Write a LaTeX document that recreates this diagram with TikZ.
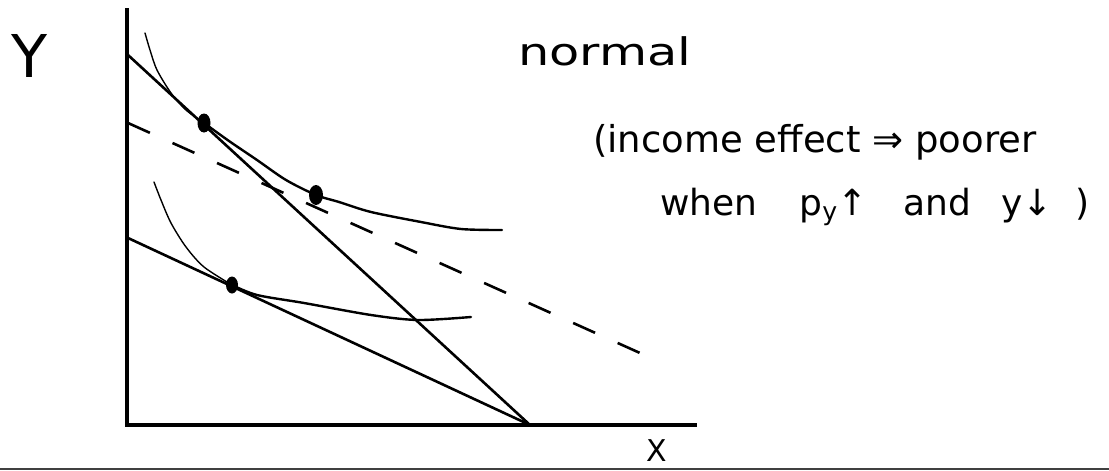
\documentclass[tikz,border=0pt]{standalone}
\usepackage{graphicx}
\usepackage{fontspec}
\setmainfont{DejaVu Sans}
\usetikzlibrary{shapes.geometric}
\begin{document}
\begin{tikzpicture}[x=1pt,y=-1pt,
  axis/.style={line width=3.5pt},
  budget/.style={line width=2.6pt},
  icthin/.style={line width=1.4pt, line cap=round, line join=round},
  icthick/.style={line width=2.4pt, line cap=round, line join=round},
  dot/.style={ellipse, fill=black, draw=none, minimum width=13pt, minimum height=19pt, inner sep=0pt},
  hand/.style={inner sep=0pt, text=black}]
\useasboundingbox (0,0) rectangle (1109,471);
\fill[white] (0,0) rectangle (1109,471);
% axes
\coordinate (O) at (127,425);
\coordinate (ytop) at (127,8);
\coordinate (xend) at (697,425);
\draw[axis] (ytop) -- (O) -- (xend);
% bottom rule
\coordinate (bl) at (0,469);
\coordinate (br) at (1109,469);
\draw[line width=1.5pt, black!75] (bl) -- (br);
% budget lines
\coordinate (A) at (128,55);
\coordinate (B) at (530,425);
\coordinate (C) at (128,238);
\coordinate (D) at (128,123);
\coordinate (E) at (640,353);
\draw[budget] (A) -- (B);
\draw[budget] (C) -- (B);
\draw[budget, dash pattern=on 24pt off 24.8pt] (D) -- (E);
% tangency points
\node[dot] (d1) at (204,123) {};
\node[dot, minimum width=14pt, minimum height=20pt] (d2) at (316,195) {};
\node[dot, minimum width=12pt, minimum height=17pt] (d3) at (232,285) {};
% indifference curves
\draw[icthin] plot[smooth] coordinates {(145,33) (150,50) (157,70) (171,93) (186,110) (204,123)};
\draw[icthick] plot[smooth] coordinates {(204,123) (229,141) (257,160) (286,180) (316,195) (339,202) (371,212) (421,222) (461,229) (502,230)};
\draw[icthin] plot[smooth] coordinates {(154,182) (161,200) (171,223) (186,247) (204,267) (232,285)};
\draw[icthick] plot[smooth] coordinates {(232,285) (257,295) (304,303) (371,315) (418,320) (471,317)};
% labels
\node[hand] (ylab) at (30,56) {\fontsize{59}{60}\selectfont Y};
\node[hand] (xlab) at (657,451) {\fontsize{30}{32}\selectfont X};
\node[hand, anchor=base west] (normal) at (518,65) {\fontsize{38}{40}\selectfont\scalebox{1.3}[1]{normal}};
\node[hand, anchor=base west] (note1) at (593,152) {\fontsize{37}{40}\selectfont (income effect ⇒ poorer};
\node[hand, anchor=base west] (note2) at (660,215) {\fontsize{36}{40}\selectfont when\hspace{42pt}p\textsubscript{y}↑\hspace{36pt}and\hspace{30pt}y↓\hspace{22pt})};
\end{tikzpicture}
\end{document}
